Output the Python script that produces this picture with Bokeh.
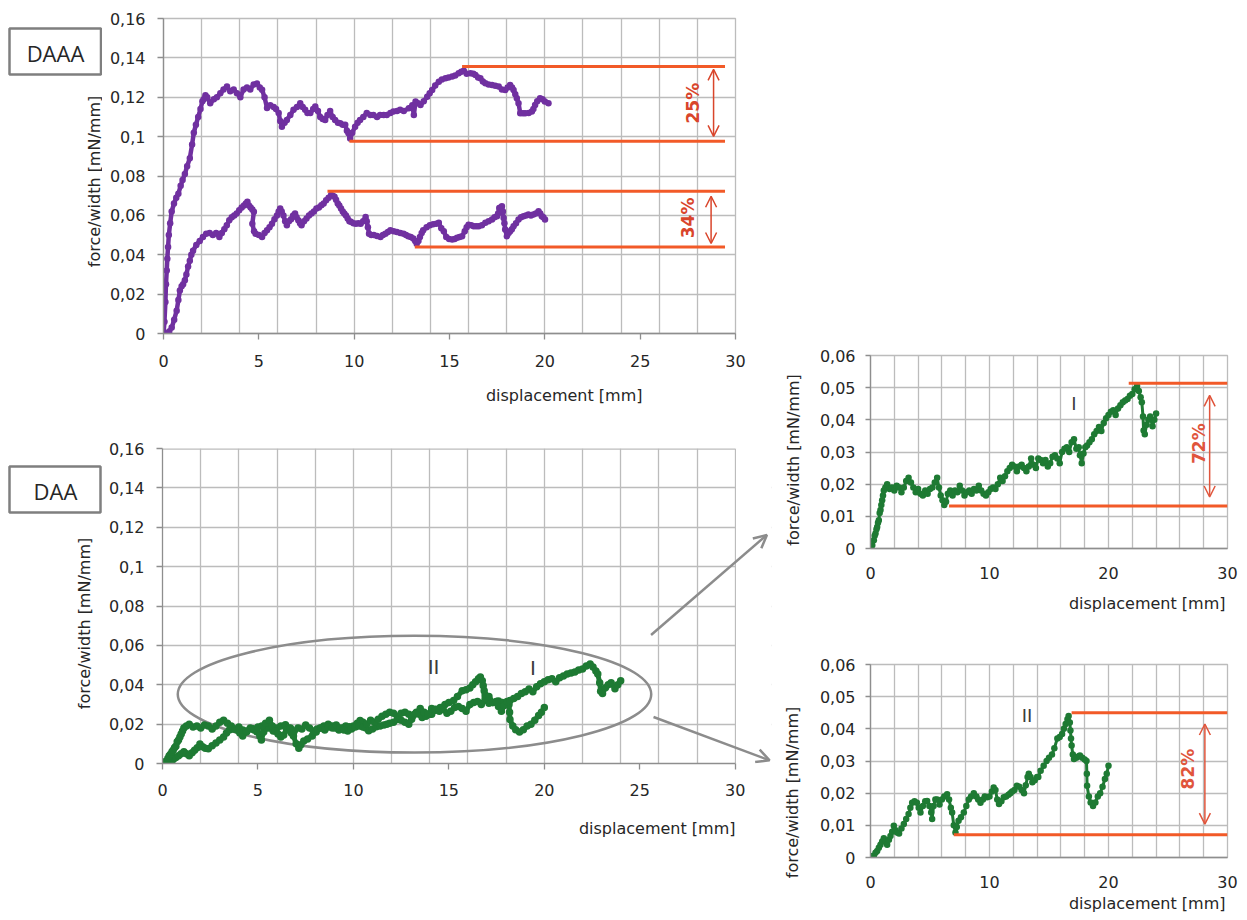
import math
from bokeh.plotting import figure
from bokeh.models import Range1d, FixedTicker, Label, Arrow, OpenHead, Spacer, Title, BoxAnnotation
from bokeh.core.properties import value
from bokeh.layouts import row, column
from bokeh.embed import file_html
from bokeh.resources import INLINE

# ---------------- ticks ----------------
X_TICKS_LEFT = [0, 5, 10, 15, 20, 25, 30]
X_TICK_LABELS_LEFT = ["0", "5", "10", "15", "20", "25", "30"]
X_TICKS_RIGHT = [0, 10, 20, 30]
X_TICK_LABELS_RIGHT = ["0", "10", "20", "30"]
X_GRID = [0, 2, 4, 6, 8, 10, 12, 14, 16, 18, 20, 22, 24, 26, 28, 30]
Y_TICKS_LEFT = [0, 0.02, 0.04, 0.06, 0.08, 0.1, 0.12, 0.14, 0.16]
Y_TICK_LABELS_LEFT = ["0", "0,02", "0,04", "0,06", "0,08", "0,1", "0,12", "0,14", "0,16"]
Y_TICKS_RIGHT = [0, 0.01, 0.02, 0.03, 0.04, 0.05, 0.06]
Y_TICK_LABELS_RIGHT = ["0", "0,01", "0,02", "0,03", "0,04", "0,05", "0,06"]

X_TITLE = "displacement [mm]"
Y_TITLE = "force/width [mN/mm]"
PANEL_NAMES = ["DAAA", "DAA"]
CURVE_NAMES = ["I", "II"]

# ---------------- series (displacement mm, force/width mN/mm) ----------------
DAAA_UPPER = [
    (0, 0), (0.05, 0.006), (0.1, 0.016), (0.13, 0.025), (0.17, 0.032), (0.2, 0.038), (0.24, 0.044),
    (0.28, 0.05), (0.35, 0.056), (0.43, 0.062), (0.55, 0.066), (0.67, 0.069), (0.78, 0.071), (0.9, 0.075),
    (1.0, 0.078), (1.12, 0.081), (1.24, 0.085), (1.38, 0.089), (1.5, 0.096), (1.59, 0.102), (1.7, 0.106),
    (1.82, 0.110), (1.94, 0.114), (2.04, 0.118), (2.11, 0.119), (2.2, 0.121), (2.29, 0.120), (2.45, 0.117),
    (2.64, 0.119), (2.8, 0.120), (2.98, 0.122), (3.15, 0.124), (3.33, 0.1255), (3.5, 0.123), (3.68, 0.124),
    (3.85, 0.122), (4.03, 0.120), (4.2, 0.124), (4.38, 0.125), (4.55, 0.124), (4.73, 0.1265), (4.9, 0.127),
    (5.05, 0.125), (5.17, 0.1238), (5.3, 0.120), (5.43, 0.1145), (5.6, 0.116), (5.78, 0.115), (5.9, 0.114),
    (6.04, 0.112), (6.12, 0.108), (6.21, 0.105), (6.35, 0.107), (6.47, 0.1085), (6.65, 0.111), (6.82, 0.1136),
    (7.0, 0.115), (7.17, 0.117), (7.3, 0.115), (7.43, 0.1136), (7.55, 0.112), (7.7, 0.112), (7.85, 0.114),
    (7.96, 0.1153), (8.1, 0.113), (8.22, 0.110), (8.35, 0.109), (8.48, 0.1085), (8.6, 0.111), (8.74, 0.113),
    (8.87, 0.110), (9.0, 0.1085), (9.15, 0.107), (9.27, 0.1068), (9.4, 0.106), (9.53, 0.106), (9.62, 0.103),
    (9.7, 0.1017), (9.79, 0.099), (9.9, 0.102), (10.05, 0.105), (10.18, 0.107), (10.31, 0.1085), (10.48, 0.110),
    (10.66, 0.112), (10.85, 0.111), (11.01, 0.111), (11.2, 0.110), (11.36, 0.111), (11.55, 0.111), (11.71, 0.111),
    (11.9, 0.112), (12.06, 0.1128), (12.25, 0.113), (12.41, 0.1136), (12.6, 0.113), (12.87, 0.1144), (13.05, 0.116),
    (13.13, 0.111), (13.22, 0.1178), (13.35, 0.117), (13.48, 0.1161), (13.65, 0.118), (13.83, 0.1203), (13.96, 0.122),
    (14.09, 0.1237), (14.25, 0.126), (14.44, 0.1279), (14.6, 0.129), (14.79, 0.1296), (14.95, 0.130), (15.14, 0.1305),
    (15.3, 0.131), (15.48, 0.1322), (15.62, 0.133), (15.75, 0.1335), (15.9, 0.132), (16.1, 0.1322), (16.25, 0.132),
    (16.36, 0.1313), (16.5, 0.130), (16.62, 0.1296), (16.75, 0.128), (16.88, 0.1271), (17.05, 0.1265), (17.23, 0.1262),
    (17.4, 0.1258), (17.58, 0.1254), (17.75, 0.124), (17.92, 0.1237), (18.05, 0.125), (18.18, 0.1262), (18.28, 0.125),
    (18.36, 0.1237), (18.45, 0.1215), (18.53, 0.1195), (18.62, 0.117), (18.71, 0.1119), (18.85, 0.1119), (18.97, 0.1119),
    (19.15, 0.112), (19.32, 0.1127), (19.4, 0.114), (19.49, 0.1161), (19.6, 0.118), (19.75, 0.1195), (19.88, 0.119),
    (20.0, 0.1178), (20.19, 0.117),
]

DAAA_LOWER = [
    (0, 0), (0.17, 0.0), (0.3, 0.001), (0.43, 0.003), (0.56, 0.007), (0.69, 0.0116), (0.78, 0.017), (0.86, 0.0218),
    (0.95, 0.024), (1.03, 0.025), (1.12, 0.027), (1.2, 0.030), (1.29, 0.034), (1.38, 0.037), (1.46, 0.040),
    (1.55, 0.042), (1.72, 0.045), (1.9, 0.047), (2.07, 0.049), (2.24, 0.0507), (2.42, 0.051), (2.59, 0.050),
    (2.76, 0.051), (2.93, 0.049), (3.06, 0.051), (3.19, 0.053), (3.32, 0.055), (3.45, 0.0575), (3.58, 0.059),
    (3.71, 0.060), (3.84, 0.061), (3.97, 0.0626), (4.1, 0.064), (4.22, 0.065), (4.32, 0.066), (4.4, 0.0669),
    (4.48, 0.065), (4.57, 0.064), (4.66, 0.063), (4.74, 0.0618), (4.66, 0.0558), (4.75, 0.052), (4.83, 0.0507),
    (5.0, 0.050), (5.17, 0.049), (5.3, 0.051), (5.43, 0.0524), (5.56, 0.054), (5.69, 0.0558), (5.82, 0.058),
    (5.95, 0.060), (6.04, 0.062), (6.12, 0.0635), (6.2, 0.062), (6.29, 0.060), (6.38, 0.057), (6.47, 0.055),
    (6.58, 0.057), (6.69, 0.058), (6.8, 0.060), (6.9, 0.061), (6.98, 0.059), (7.07, 0.0575), (7.16, 0.056),
    (7.24, 0.055), (7.37, 0.057), (7.5, 0.0584), (7.63, 0.060), (7.76, 0.061), (7.89, 0.062), (8.02, 0.0635),
    (8.15, 0.064), (8.28, 0.0652), (8.4, 0.066), (8.53, 0.0677), (8.66, 0.069), (8.79, 0.0703), (8.88, 0.070),
    (8.97, 0.0694), (9.05, 0.068), (9.14, 0.066), (9.22, 0.065), (9.31, 0.0635), (9.4, 0.062), (9.48, 0.061),
    (9.57, 0.060), (9.66, 0.0584), (9.75, 0.057), (9.83, 0.0567), (9.96, 0.056), (10.09, 0.0558), (10.22, 0.056),
    (10.34, 0.0558), (10.47, 0.057), (10.6, 0.0592), (10.66, 0.057), (10.72, 0.054), (10.78, 0.0507), (10.9, 0.050),
    (11.03, 0.050), (11.2, 0.0495), (11.38, 0.049), (11.51, 0.050), (11.64, 0.0507), (11.77, 0.0515), (11.9, 0.0524),
    (12.07, 0.052), (12.24, 0.0516), (12.42, 0.051), (12.59, 0.0507), (12.72, 0.050), (12.84, 0.0494), (12.97, 0.049),
    (13.1, 0.0482), (13.2, 0.047), (13.28, 0.0456), (13.37, 0.047), (13.45, 0.049), (13.54, 0.051), (13.62, 0.0524),
    (13.8, 0.054), (13.97, 0.055), (14.14, 0.0555), (14.31, 0.0558), (14.44, 0.0562), (14.57, 0.0535), (14.7, 0.052),
    (14.83, 0.049), (14.98, 0.048), (15.14, 0.0478), (15.27, 0.048), (15.4, 0.0486), (15.53, 0.049), (15.66, 0.0494),
    (15.8, 0.052), (15.9, 0.054), (16.0, 0.0553), (16.14, 0.055), (16.27, 0.0545), (16.4, 0.0545), (16.53, 0.0545),
    (16.7, 0.055), (16.88, 0.0562), (17.05, 0.057), (17.23, 0.0579), (17.36, 0.059), (17.49, 0.0596), (17.55, 0.061),
    (17.61, 0.0638), (17.68, 0.064), (17.75, 0.0646), (17.8, 0.062), (17.84, 0.0587), (17.88, 0.056), (17.92, 0.0528),
    (18.01, 0.0494), (18.1, 0.051), (18.18, 0.052), (18.27, 0.053), (18.36, 0.0545), (18.49, 0.056), (18.62, 0.0579),
    (18.75, 0.059), (18.88, 0.0596), (19.01, 0.060), (19.14, 0.0604), (19.27, 0.060), (19.4, 0.0604), (19.53, 0.061),
    (19.67, 0.0621), (19.76, 0.061), (19.84, 0.0596), (19.92, 0.059), (20.01, 0.0579),
]

DAA_I = [
    (0, 0), (0.15, 0.001), (0.28, 0.0026), (0.35, 0.004), (0.42, 0.0047), (0.5, 0.006), (0.56, 0.0067), (0.63, 0.008),
    (0.7, 0.0088), (0.77, 0.011), (0.84, 0.012), (0.91, 0.0135), (0.98, 0.015), (1.05, 0.0165), (1.12, 0.018),
    (1.25, 0.019), (1.4, 0.020), (1.6, 0.0185), (1.8, 0.019), (2.0, 0.018), (2.2, 0.0195), (2.4, 0.019), (2.6, 0.0175),
    (2.8, 0.019), (3.0, 0.021), (3.2, 0.022), (3.4, 0.0205), (3.6, 0.019), (3.8, 0.0175), (4.0, 0.0185), (4.2, 0.017),
    (4.4, 0.0165), (4.6, 0.018), (4.8, 0.017), (5.0, 0.0185), (5.2, 0.019), (5.4, 0.0205), (5.6, 0.022), (5.75, 0.019),
    (5.9, 0.0165), (6.05, 0.015), (6.2, 0.0135), (6.35, 0.0145), (6.5, 0.017), (6.7, 0.018), (6.9, 0.0165), (7.1, 0.018),
    (7.3, 0.0175), (7.5, 0.0195), (7.7, 0.018), (7.9, 0.0165), (8.1, 0.0175), (8.3, 0.018), (8.5, 0.017), (8.7, 0.0185),
    (8.9, 0.018), (9.1, 0.0195), (9.3, 0.018), (9.5, 0.017), (9.7, 0.0165), (9.9, 0.0175), (10.1, 0.0185), (10.3, 0.019),
    (10.5, 0.0185), (10.7, 0.020), (10.9, 0.022), (11.1, 0.021), (11.3, 0.0225), (11.5, 0.024), (11.7, 0.025),
    (11.9, 0.026), (12.1, 0.0255), (12.3, 0.024), (12.5, 0.0255), (12.7, 0.026), (12.9, 0.025), (13.1, 0.024),
    (13.3, 0.0255), (13.5, 0.028), (13.7, 0.026), (13.9, 0.025), (14.1, 0.028), (14.3, 0.0275), (14.5, 0.0265),
    (14.7, 0.0275), (14.9, 0.0255), (15.1, 0.0265), (15.3, 0.0285), (15.5, 0.029), (15.7, 0.028), (15.9, 0.0265),
    (16.1, 0.030), (16.3, 0.031), (16.5, 0.0315), (16.7, 0.030), (16.9, 0.033), (17.1, 0.034), (17.3, 0.031),
    (17.5, 0.0315), (17.6, 0.029), (17.75, 0.0265), (17.9, 0.0295), (18.05, 0.0315), (18.2, 0.032), (18.4, 0.033),
    (18.6, 0.034), (18.8, 0.0355), (19.0, 0.0365), (19.2, 0.0378), (19.4, 0.0365), (19.6, 0.039), (19.8, 0.0405),
    (20.0, 0.0415), (20.2, 0.0425), (20.4, 0.043), (20.6, 0.0415), (20.8, 0.0435), (21.0, 0.0445), (21.2, 0.0455),
    (21.4, 0.046), (21.6, 0.0465), (21.8, 0.0475), (22.0, 0.048), (22.2, 0.0495), (22.4, 0.0505), (22.55, 0.049),
    (22.7, 0.047), (22.8, 0.0455), (22.9, 0.041), (22.95, 0.0367), (23.05, 0.0355), (23.2, 0.0385), (23.35, 0.040),
    (23.5, 0.041), (23.7, 0.038), (23.85, 0.040), (24.0, 0.042),
]

DAA_II = [
    (0, 0), (0.15, 0.0005), (0.28, 0.0005), (0.42, 0.0015), (0.56, 0.002), (0.7, 0.003), (0.84, 0.004), (0.98, 0.005),
    (1.12, 0.006), (1.26, 0.005), (1.4, 0.004), (1.55, 0.0055), (1.68, 0.0067), (1.82, 0.008), (1.96, 0.0099),
    (2.1, 0.0085), (2.24, 0.0078), (2.4, 0.0075), (2.6, 0.009), (2.8, 0.0104), (3.0, 0.012), (3.2, 0.0135),
    (3.35, 0.0155), (3.5, 0.017), (3.7, 0.0175), (3.9, 0.017), (4.05, 0.0155), (4.2, 0.014), (4.4, 0.016),
    (4.6, 0.0175), (4.76, 0.0176), (4.95, 0.016), (5.1, 0.014), (5.18, 0.012), (5.3, 0.016), (5.45, 0.018),
    (5.6, 0.018), (5.8, 0.0165), (6.0, 0.018), (6.2, 0.019), (6.44, 0.0197), (6.6, 0.018), (6.75, 0.0155),
    (6.86, 0.014), (7.0, 0.010), (7.14, 0.0078), (7.25, 0.0095), (7.4, 0.0114), (7.6, 0.0125), (7.84, 0.014),
    (8.05, 0.016), (8.26, 0.018), (8.45, 0.019), (8.68, 0.020), (8.9, 0.019), (9.05, 0.018), (9.24, 0.017),
    (9.45, 0.018), (9.6, 0.019), (9.8, 0.0187), (10.0, 0.019), (10.2, 0.0205), (10.35, 0.0218), (10.5, 0.021),
    (10.65, 0.018), (10.8, 0.0166), (11.0, 0.0175), (11.2, 0.0187), (11.4, 0.019), (11.6, 0.0195), (11.75, 0.020),
    (11.9, 0.0205), (12.1, 0.021), (12.3, 0.0223), (12.5, 0.022), (12.7, 0.021), (12.9, 0.020), (13.05, 0.0225),
    (13.2, 0.025), (13.3, 0.026), (13.45, 0.025), (13.6, 0.0234), (13.8, 0.024), (14.0, 0.025), (14.1, 0.025),
    (14.3, 0.027), (14.55, 0.0285), (14.8, 0.030), (15.0, 0.031), (15.25, 0.032), (15.45, 0.034), (15.7, 0.037),
    (15.9, 0.0375), (16.1, 0.0384), (16.25, 0.040), (16.4, 0.0415), (16.55, 0.043), (16.65, 0.044), (16.75, 0.042),
    (16.8, 0.0395), (16.85, 0.037), (16.9, 0.0348), (17.0, 0.032), (17.1, 0.0306), (17.3, 0.031), (17.5, 0.0315),
    (17.6, 0.0317), (17.8, 0.031), (18.0, 0.0305), (18.15, 0.030), (18.18, 0.026), (18.2, 0.0223), (18.35, 0.019),
    (18.5, 0.0171), (18.7, 0.016), (18.9, 0.0171), (19.1, 0.019), (19.3, 0.020), (19.5, 0.022), (19.7, 0.0244),
    (19.85, 0.026), (20.0, 0.0285),
]

# ---------------- reference levels & drops ----------------
DAAA_LEVEL_X0 = [15.66, 9.75, 8.6, 13.18]
DAAA_LEVEL_X1 = [29.45, 29.45, 29.45, 29.45]
DAAA_LEVEL_Y = [0.1356, 0.0976, 0.0722, 0.0439]
DAAA_DROP_TEXT = ["25%", "34%"]
DAAA_DROP_X = [28.85, 28.72]
DAAA_DROP_TOP = [0.1342, 0.0697]
DAAA_DROP_BOTTOM = [0.1001, 0.0457]
DAAA_DROP_TEXT_X = [27.77, 27.5]
DAAA_DROP_TEXT_Y = [0.117, 0.0587]

I_LEVEL_X0 = [21.7, 6.6]
I_LEVEL_X1 = [30, 30]
I_LEVEL_Y = [0.0514, 0.0132]
I_DROP = dict(text="72%", x=28.5, top=0.0476, bottom=0.016, tx=27.6, ty=0.0326)

II_LEVEL_X0 = [16.9, 7.0]
II_LEVEL_X1 = [30, 30]
II_LEVEL_Y = [0.045, 0.0071]
II_DROP = dict(text="82%", x=28.1, top=0.0415, bottom=0.0104, tx=26.7, ty=0.0275)

# ellipse around the DAA curves and the two "zoom" arrows
ELLIPSE = dict(x=13.2, y=0.0352, w=24.8, h=0.0593)
ZOOM_ARROW_X0 = [25.59, 25.72]
ZOOM_ARROW_Y0 = [0.0653, 0.0236]
ZOOM_ARROW_X1 = [31.66, 31.8]
ZOOM_ARROW_Y1 = [0.1161, 0.0016]
BL_X_MAX = 31.9   # frame of the DAA plot is extended to hold the arrow heads

# ---------------- styles ----------------
FONT = "DejaVu Sans"
BOX_FONT = "Open Sans"
PURPLE = "#7030a0"
GREEN = "#1e7a33"
RED_LINE = "#f25a28"
RED_TEXT = "#d9452b"
RED_TEXT2 = "#e0553c"
GRAY_ANN = "#8c8c8c"
GRID = "#bcbcbc"
AXIS = "#8e8e8e"
TXT = "#262626"
LBL = "#3c3c3c"


def xs(series):
    return [p[0] for p in series]


def ys(series):
    return [p[1] for p in series]


def base_fig(fw, fh, bl, bt, bb, br, xmax, ymax, yticks, ylabels, xticks, xlabels,
             y_out, y_std, x_out, x_std):
    p = figure(frame_width=fw, frame_height=fh, min_border_left=bl, min_border_top=bt,
               min_border_bottom=bb, min_border_right=br,
               x_range=Range1d(0, xmax), y_range=Range1d(0, ymax),
               output_backend="svg", toolbar_location=None, tools="")
    p.outline_line_color = GRID
    p.outline_line_width = 1.3
    p.background_fill_color = "white"
    p.border_fill_color = "white"
    p.xaxis.ticker = FixedTicker(ticks=xticks)
    p.xaxis.major_label_overrides = {t: l for t, l in zip(xticks, xlabels)}
    p.yaxis.ticker = FixedTicker(ticks=yticks)
    p.yaxis.major_label_overrides = {t: l for t, l in zip(yticks, ylabels)}
    p.xgrid.ticker = FixedTicker(ticks=X_GRID)
    p.ygrid.ticker = FixedTicker(ticks=yticks)
    p.grid.grid_line_color = GRID
    p.grid.grid_line_width = 1.3
    p.axis.axis_line_color = AXIS
    p.axis.axis_line_width = 1.3
    p.axis.major_tick_line_color = AXIS
    p.axis.major_tick_line_width = 1.3
    p.axis.minor_tick_line_color = None
    p.axis.major_tick_in = 0
    p.yaxis.major_tick_out = y_out
    p.yaxis.major_label_standoff = y_std
    p.xaxis.major_tick_out = x_out
    p.xaxis.major_label_standoff = x_std
    p.axis.major_label_text_font = FONT
    p.axis.major_label_text_font_size = "16px"
    p.axis.major_label_text_color = TXT
    return p


def x_title(p, offset, standoff):
    p.add_layout(Title(text=X_TITLE, align="right", offset=offset, standoff=standoff,
                       text_font=FONT, text_font_size="16px", text_font_style="normal",
                       text_color=TXT), "below")


def add_series(p, series, color, size, lw):
    p.line(xs(series), ys(series), line_color=color, line_width=lw, line_join="round")
    p.scatter(xs(series), ys(series), size=size, fill_color=color, line_color=None)


def add_drop(p, x, top, bottom, text, tx, ty, color):
    p.add_layout(Arrow(start=OpenHead(size=11, line_color=color, line_width=1.5),
                       end=OpenHead(size=11, line_color=color, line_width=1.5),
                       x_start=x, y_start=top, x_end=x, y_end=bottom,
                       line_color=color, line_width=1.5))
    p.add_layout(Label(x=tx, y=ty, text=text, angle=math.pi / 2, text_align="center",
                       text_baseline="middle", text_font=FONT, text_font_size="17px",
                       text_font_style="bold", text_color=color))


def strip(w, h, ox, oy, title_xy, box=None, box_text=None, box_text_xy=None):
    """Narrow figure left of a chart holding the rotated y title (and the name box)."""
    s = figure(frame_width=w, frame_height=h, min_border=0, x_range=Range1d(0, w), y_range=Range1d(0, h),
               x_axis_type=None, y_axis_type=None, output_backend="svg", toolbar_location=None, tools="")
    s.outline_line_color = None
    s.background_fill_color = "white"
    s.border_fill_color = "white"
    if box is not None:
        l, r, t, b = box
        s.quad(left=[l - ox], right=[r - ox], top=[h - (t - oy)], bottom=[h - (b - oy)],
               fill_color="white", line_color="#7f7f7f", line_width=2.5)
        s.text(x=[box_text_xy[0] - ox], y=[h - (box_text_xy[1] - oy)], text=[box_text],
               text_align="center", text_baseline="middle", text_font=value(BOX_FONT),
               text_font_size=value("22px"), text_color=TXT)
    s.text(x=[title_xy[0] - ox], y=[h - (title_xy[1] - oy)], text=[Y_TITLE], angle=math.pi / 2,
           text_align="center", text_baseline="middle", text_font=value(FONT),
           text_font_size=value("16px"), text_color=TXT)
    return s


# ---------------- top-left: DAAA ----------------
tl = base_fig(572, 315, 61, 18, 90, 43, 30, 0.16, Y_TICKS_LEFT, Y_TICK_LABELS_LEFT,
              X_TICKS_LEFT, X_TICK_LABELS_LEFT, 6, 12, 6, 15)
add_series(tl, DAAA_UPPER, PURPLE, 6.5, 4.5)
add_series(tl, DAAA_LOWER, PURPLE, 6.5, 4.5)
tl.segment(x0=DAAA_LEVEL_X0, y0=DAAA_LEVEL_Y, x1=DAAA_LEVEL_X1, y1=DAAA_LEVEL_Y,
           line_color=RED_LINE, line_width=3)
for i in range(len(DAAA_DROP_TEXT)):
    add_drop(tl, DAAA_DROP_X[i], DAAA_DROP_TOP[i], DAAA_DROP_BOTTOM[i], DAAA_DROP_TEXT[i],
             DAAA_DROP_TEXT_X[i], DAAA_DROP_TEXT_Y[i], RED_TEXT)
x_title(tl, 93, 28)
tl_strip = strip(102, 423, 0, 0, (93.5, 163), box=(9, 100.5, 10, 56), box_text=PANEL_NAMES[0],
                 box_text_xy=(55, 34))

# ---------------- bottom-left: DAA ----------------
bl = base_fig(609, 315, 60, 25, 96, 7, BL_X_MAX, 0.16, Y_TICKS_LEFT, Y_TICK_LABELS_LEFT,
              X_TICKS_LEFT, X_TICK_LABELS_LEFT, 6, 12, 6, 14)
bl.outline_line_color = None
bl.xaxis.bounds = (0, X_TICKS_LEFT[-1])
bl.add_layout(BoxAnnotation(left=X_TICKS_LEFT[-1] + 0.04, fill_color="white", fill_alpha=1,
                            line_alpha=0, level="underlay"))
bl.segment(x0=[0], y0=[Y_TICKS_LEFT[-1]], x1=[X_TICKS_LEFT[-1]], y1=[Y_TICKS_LEFT[-1]],
           line_color=GRID, line_width=2.6)
bl.ellipse(x=[ELLIPSE["x"]], y=[ELLIPSE["y"]], width=[ELLIPSE["w"]], height=[ELLIPSE["h"]],
           fill_color=None, line_color=GRAY_ANN, line_width=2.5)
add_series(bl, DAA_II, GREEN, 7.5, 5)
add_series(bl, DAA_I, GREEN, 7.5, 5)
bl.add_layout(Label(x=14.2, y=0.049, text=CURVE_NAMES[1], text_align="center", text_baseline="middle",
                    text_font=FONT, text_font_size="20px", text_color=LBL))
bl.add_layout(Label(x=19.4, y=0.0485, text=CURVE_NAMES[0], text_align="center", text_baseline="middle",
                    text_font=FONT, text_font_size="20px", text_color=LBL))
for i in range(len(ZOOM_ARROW_X0)):
    bl.add_layout(Arrow(end=OpenHead(size=13, line_color=GRAY_ANN, line_width=2.5),
                        x_start=ZOOM_ARROW_X0[i], y_start=ZOOM_ARROW_Y0[i],
                        x_end=ZOOM_ARROW_X1[i], y_end=ZOOM_ARROW_Y1[i],
                        line_color=GRAY_ANN, line_width=2.5))
x_title(bl, 36, 36)
bl_strip = strip(102, 436, 0, 423, (84, 598), box=(9, 100, 441, 487), box_text=PANEL_NAMES[1],
                 box_text_xy=(55, 465))

# ---------------- right-top: curve I ----------------
rt = base_fig(357, 193, 62, 17, 78, 15, 30, 0.06, Y_TICKS_RIGHT, Y_TICK_LABELS_RIGHT,
              X_TICKS_RIGHT, X_TICK_LABELS_RIGHT, 5, 10, 0, 18)
add_series(rt, DAA_I, GREEN, 6.5, 3)
rt.segment(x0=I_LEVEL_X0, y0=I_LEVEL_Y, x1=I_LEVEL_X1, y1=I_LEVEL_Y, line_color=RED_LINE, line_width=3)
add_drop(rt, I_DROP["x"], I_DROP["top"], I_DROP["bottom"], I_DROP["text"], I_DROP["tx"], I_DROP["ty"],
         RED_TEXT2)
rt.add_layout(Label(x=17.1, y=0.045, text=CURVE_NAMES[0], text_align="center", text_baseline="middle",
                    text_font=FONT, text_font_size="18px", text_color=LBL))
x_title(rt, 2, 20)
rt_strip = strip(30, 288, 778, 338, (792.5, 442.5))

# ---------------- right-bottom: curve II ----------------
rb = base_fig(357, 193, 62, 38, 61, 15, 30, 0.06, Y_TICKS_RIGHT, Y_TICK_LABELS_RIGHT,
              X_TICKS_RIGHT, X_TICK_LABELS_RIGHT, 5, 10, 0, 18)
add_series(rb, DAA_II, GREEN, 6.5, 3)
rb.segment(x0=II_LEVEL_X0, y0=II_LEVEL_Y, x1=II_LEVEL_X1, y1=II_LEVEL_Y, line_color=RED_LINE, line_width=3)
add_drop(rb, II_DROP["x"], II_DROP["top"], II_DROP["bottom"], II_DROP["text"], II_DROP["tx"], II_DROP["ty"],
         RED_TEXT2)
rb.add_layout(Label(x=13.15, y=0.0441, text=CURVE_NAMES[1], text_align="center", text_baseline="middle",
                    text_font=FONT, text_font_size="18px", text_color=LBL))
x_title(rb, 2, 3)
rb_strip = strip(30, 292, 778, 626, (792, 754))

left_col = column(row(tl_strip, tl), row(bl_strip, bl))
right_col = column(Spacer(width=464, height=338), row(rt_strip, rt), row(rb_strip, rb))
layout = row(left_col, right_col)

open("out.html", "w").write(file_html(layout, INLINE))
